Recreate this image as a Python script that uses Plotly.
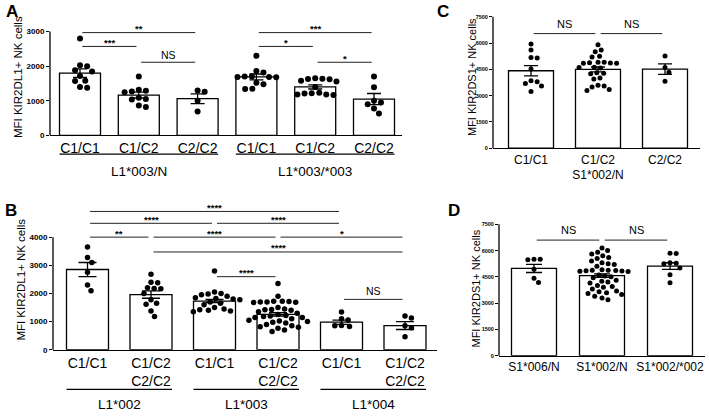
import numpy as np
import plotly.graph_objects as go

# ---- data ----
# A: MFI KIR2DL1+ NK cells, L1*003/N and L1*003/*003 donors
a_cats = ["C1/C1", "C1/C2", "C2/C2", "C1/C1", "C1/C2", "C2/C2"]
a_groups = ["L1*003/N", "L1*003/*003"]
a_group_span = [(0, 2), (3, 5)]
a_mean = [1800, 1165, 1060, 1690, 1400, 1050]
a_sem = [125, 85, 140, 85, 60, 160]
a_pts = [
    [2800, 2000, 2030, 1850, 1880, 1720, 1570, 1580, 1380, 1400],
    [1700, 1290, 1250, 1270, 1320, 1050, 1090, 1040, 820, 860],
    [1260, 1300, 1000, 690],
    [2300, 1860, 1820, 1700, 1690, 1680, 1700, 1690, 1520, 1480, 1350, 1340],
    [1650, 1620, 1640, 1630, 1560, 1580, 1400, 1220, 1180, 1170, 1180, 1210, 1230],
    [1700, 1390, 950, 900, 1000, 780, 630],
]
a_ticks = [0, 1000, 2000, 3000]
a_sig = [(0, 2, "**"), (0, 1, "***"), (1, 2, "NS"), (3, 5, "***"), (3, 4, "*"), (4, 5, "*")]

# B: MFI KIR2DL1+ NK cells by KIR2DL1 allele
b_cats = ["C1/C1", "C1/C2<br>C2/C2", "C1/C1", "C1/C2<br>C2/C2", "C1/C1", "C1/C2<br>C2/C2"]
b_groups = ["L1*002", "L1*003", "L1*004"]
b_group_span = [(0, 1), (2, 3), (4, 5)]
b_mean = [2850, 1960, 1730, 1260, 980, 860]
b_sem = [250, 130, 55, 60, 75, 140]
b_pts = [
    [3650, 3280, 3100, 2750, 2300, 2100],
    [2680, 2400, 2380, 2180, 2170, 2200, 2000, 1780, 1650, 1620, 1380, 1180],
    [2800, 2050, 2000, 1980, 1950, 1900, 1850, 1820, 1800, 1780, 1700, 1650, 1600,
     1500, 1450, 1420, 1400, 1380, 1350],
    [2350, 1900, 1720, 1700, 1720, 1690, 1710, 1700, 1680, 1500, 1450, 1430, 1420,
     1400, 1350, 1300, 1250, 1220, 1200, 1180, 1150, 1150, 1100, 1050, 1020, 1000,
     980, 950, 900, 850, 820, 800, 760, 700, 650],
    [1340, 1100, 1060, 850, 830, 860],
    [1200, 1130, 850, 780, 460],
]
b_ticks = [0, 1000, 2000, 3000, 4000]
b_sig = [(0, 4, "****"), (0, 2, "****"), (2, 4, "****"), (0, 1, "**"), (1, 3, "****"),
         (3, 5, "*"), (1, 5, "****"), (2, 3, "****"), (4, 5, "NS")]

# C: MFI KIR2DS1+ NK cells, S1*002/N donors
c_cats = ["C1/C1", "C1/C2<br>S1*002/N", "C2/C2"]
c_mean = [4420, 4495, 4510]
c_sem = [290, 140, 300]
c_pts = [
    [5950, 5600, 5180, 5150, 4520, 3850, 3800, 3700, 3550, 3230],
    [5900, 5600, 5500, 5250, 5200, 4900, 4880, 4850, 4870, 4900, 4850, 4600, 4580,
     4620, 4300, 4280, 4250, 4000, 3950, 3600, 3550, 3500, 3350, 3300],
    [5260, 4610, 4340, 3820],
]
c_ticks = [0, 1500, 3000, 4500, 6000, 7500]
c_sig = [(0, 1, "NS"), (1, 2, "NS")]

# D: MFI KIR2DS1+ NK cells by KIR2DS1 genotype
d_cats = ["S1*006/N", "S1*002/N", "S1*002/*002"]
d_mean = [4980, 4570, 5115]
d_sem = [230, 105, 190]
d_pts = [
    [5500, 5480, 5510, 4930, 4420, 4180],
    [6150, 6000, 5900, 5800, 5700, 5600, 5550, 5400, 5300, 5250, 5200, 5100, 4900,
     4880, 4870, 4860, 4850, 4840, 4820, 4800, 4600, 4550, 4500, 4450, 4300, 4250,
     4200, 4150, 4000, 3950, 3900, 3800, 3700, 3650, 3600, 3550, 3500, 3400, 3300, 3200],
    [5850, 5830, 5300, 5250, 5280, 5000, 4620, 4170],
]
d_ticks = [0, 1500, 3000, 4500, 6000, 7500]
d_sig = [(0, 1, "NS"), (1, 2, "NS")]

# ---- layout (pixel positions in the 709x419 canvas) ----
W, H = 709, 419
FONT = "Liberation Sans, Arial, sans-serif"

panels = [
    dict(letter="A", letter_xy=(12, 12), cats=a_cats, mean=a_mean, sem=a_sem, pts=a_pts,
         ticks=a_ticks, sig=a_sig, sig_px=[33, 47, 63, 33, 47, 63], sig_shift=(4, 7),
         groups=a_groups, group_span=a_group_span, group_line=156, group_label=174,
         xl=50, xr=402, c0=80, unit=58.8, base=137, top=20, tick_px=32,
         bar_px=41, cap=7, dot=6, tickfont=8, catfont=14, titlefont=11.5,
         title="MFI KIR2DL1+ NK cells", title_xy=(18, 78)),
    dict(letter="B", letter_xy=(11, 213), cats=b_cats, mean=b_mean, sem=b_sem, pts=b_pts,
         ticks=b_ticks, sig=b_sig, sig_px=[214, 226, 226, 240, 240, 240, 255, 280, 303],
         sig_shift=(4, 8),
         groups=b_groups, group_span=b_group_span, group_line=394, group_label=409,
         xl=53, xr=437, c0=87.5, unit=63.5, base=354, top=205, tick_px=240,
         bar_px=42, cap=9, dot=5.5, tickfont=8, catfont=14, titlefont=11.5,
         title="MFI KIR2DL1+ NK cells", title_xy=(21, 283)),
    dict(letter="C", letter_xy=(443, 12), cats=c_cats, mean=c_mean, sem=c_sem, pts=c_pts,
         ticks=c_ticks, sig=c_sig, sig_px=[34, 34], sig_shift=(4, 10),
         groups=[], group_span=[], group_line=0, group_label=0,
         xl=493, xr=700, c0=531, unit=67, base=150, top=10, tick_px=17,
         bar_px=45, cap=7, dot=5, tickfont=5.5, catfont=12, titlefont=11,
         title="MFI KIR2DS1+ NK cells", title_xy=(472, 78)),
    dict(letter="D", letter_xy=(454, 213), cats=d_cats, mean=d_mean, sem=d_sem, pts=d_pts,
         ticks=d_ticks, sig=d_sig, sig_px=[243, 243], sig_shift=(4, 10),
         groups=[], group_span=[], group_line=0, group_label=0,
         xl=499, xr=705, c0=534, unit=68, base=360, top=218, tick_px=227,
         bar_px=45, cap=8, dot=5, tickfont=5.5, catfont=12, titlefont=11,
         title="MFI KIR2DS1+ NK cells", title_xy=(476, 292)),
]


def py(pix):
    return 1 - pix / H


def swarm(vals, ppu_y, unit, d):
    # simple beeswarm: place each dot as close to the centre as possible
    ys = np.asarray(vals, float) * ppu_y
    offs = np.zeros(len(ys))
    placed = []
    for k in np.argsort(-ys, kind="stable"):
        y = ys[k]
        cands = [0.0]
        for px, pyy in placed:
            dy = abs(pyy - y)
            if dy < d:
                dx = np.sqrt(d * d - dy * dy)
                cands += [px + dx, px - dx]
        cands.sort(key=abs)
        for c in cands:
            if all((c - px) ** 2 + (y - pyy) ** 2 >= d * d - 1e-6 for px, pyy in placed):
                offs[k] = c
                break
        placed.append((offs[k], y))
    return offs / unit


fig = go.Figure()
shapes, annotations = [], []

for n, p in enumerate(panels):
    s = "" if n == 0 else str(n + 1)
    xa, ya = "x" + s, "y" + s
    idx = list(range(len(p["cats"])))
    xr0 = (p["xl"] - p["c0"]) / p["unit"]
    xr1 = (p["xr"] - p["c0"]) / p["unit"]
    ppu = (p["base"] - p["tick_px"]) / p["ticks"][-1]
    ytop = (p["base"] - p["top"]) / ppu
    bw = p["bar_px"] / p["unit"]

    fig.add_trace(go.Bar(
        x=idx, y=p["mean"], width=bw, xaxis=xa, yaxis=ya, showlegend=False,
        marker=dict(color="white", line=dict(color="black", width=1.3)),
        error_y=dict(type="data", array=p["sem"], color="black", thickness=1.3, width=p["cap"]),
    ))

    dx, dy = [], []
    for k, vals in enumerate(p["pts"]):
        offs = swarm(vals, ppu, p["unit"], p["dot"] + 1.2)
        dx += list(k + offs)
        dy += list(vals)
    fig.add_trace(go.Scatter(
        x=dx, y=dy, mode="markers", xaxis=xa, yaxis=ya, showlegend=False,
        marker=dict(color="black", size=p["dot"]), cliponaxis=False,
    ))

    fig.layout["xaxis" + s] = dict(
        domain=[p["xl"] / W, p["xr"] / W], range=[xr0, xr1], anchor=ya,
        tickvals=idx, ticktext=p["cats"], ticks="", showline=True,
        linecolor="black", linewidth=1.3, showgrid=False, zeroline=False,
        tickfont=dict(size=p["catfont"], color="black", family=FONT),
    )
    fig.layout["yaxis" + s] = dict(
        domain=[py(p["base"]), py(p["top"])], range=[0, ytop], anchor=xa,
        tickvals=p["ticks"], ticks="outside", ticklen=3, tickwidth=1.2,
        tickcolor="black", showline=False, showgrid=False, zeroline=False,
        tickfont=dict(size=p["tickfont"], color="black", family=FONT, weight="bold"),
    )

    # y axis line stops at the top tick
    shapes.append(dict(type="line", xref=xa + " domain", yref=ya + " domain",
                       x0=0, x1=0, y0=0, y1=p["ticks"][-1] / ytop,
                       line=dict(color="black", width=1.3)))

    tx, ty = p["title_xy"]
    annotations.append(dict(
        x=tx / W, y=py(ty), xref="paper", yref="paper", text=p["title"],
        textangle=-90, showarrow=False, xanchor="center", yanchor="middle",
        font=dict(size=p["titlefont"], color="black", family=FONT)))

    # significance brackets
    for (i, j, lab), pix in zip(p["sig"], p["sig_px"]):
        yv = (p["base"] - pix) / ppu
        shapes.append(dict(type="line", xref=xa, yref=ya, x0=i + 0.04, x1=j - 0.04,
                           y0=yv, y1=yv, line=dict(color="#222", width=1)))
        ns = lab == "NS"
        annotations.append(dict(
            x=(i + j) / 2, y=yv, xref=xa, yref=ya,
            text=lab if ns else "<b>%s</b>" % lab, showarrow=False,
            yanchor="middle", yshift=p["sig_shift"][1 if ns else 0],
            font=dict(size=(11 if n >= 2 else 10.5) if ns else 9.5, color="black",
                      family=FONT)))

    # genotype group lines under the category labels (paper coords)
    for (g0, g1), lab in zip(p["group_span"], p["groups"]):
        f0 = (g0 - bw / 2 - xr0) / (xr1 - xr0)
        f1 = (g1 + bw / 2 - xr0) / (xr1 - xr0)
        span = p["xr"] - p["xl"]
        shapes.append(dict(type="line", xref="paper", yref="paper",
                           x0=(p["xl"] + f0 * span) / W, x1=(p["xl"] + f1 * span) / W,
                           y0=py(p["group_line"]), y1=py(p["group_line"]),
                           line=dict(color="black", width=1.2)))
        annotations.append(dict(
            x=(g0 + g1) / 2, y=py(p["group_label"]), xref=xa, yref="paper",
            text=lab, showarrow=False, yanchor="middle",
            font=dict(size=13.5, color="black", family=FONT)))

    lx, ly = p["letter_xy"]
    annotations.append(dict(
        x=lx / W, y=py(ly), xref="paper", yref="paper", text="<b>%s</b>" % p["letter"],
        showarrow=False, xanchor="center", yanchor="middle",
        font=dict(size=17, color="black", family=FONT)))

fig.update_layout(
    width=W, height=H, margin=dict(l=0, r=0, t=0, b=0),
    paper_bgcolor="white", plot_bgcolor="white",
    font=dict(family=FONT, color="black"),
    shapes=shapes, annotations=annotations,
)

# drop the default 8px page margin so the figure sits at the window origin
fig.write_html("out.html", config={"displayModeBar": False},
               post_script="document.body.style.margin='0';")
